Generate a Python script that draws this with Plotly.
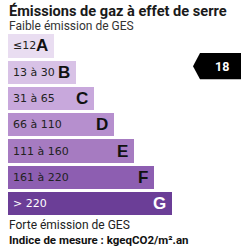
import plotly.graph_objects as go

classes = ["A", "B", "C", "D", "E", "F", "G"]
ranges = ["≤12", "13 à 30", "31 à 65", "66 à 110", "111 à 160", "161 à 220", "> 220"]
lengths = [46, 68, 86, 106, 126, 146, 164]
colors = ["#e9ddf1", "#d8c2e6", "#c8a8dc", "#b68fce", "#a67bc1", "#8d5eb1", "#6b3e97"]
letter_colors = ["#111", "#111", "#111", "#111", "#111", "#111", "#ffffff"]
value = 18
value_class = "B"

idx = list(range(len(classes)))

fig = go.Figure()
fig.add_trace(go.Bar(
    y=idx, x=lengths, orientation="h", marker=dict(color=colors, line=dict(width=0)),
    width=0.88, hoverinfo="skip", showlegend=False,
))

ann = []
for i, (r, L, lc, c) in enumerate(zip(ranges, lengths, letter_colors, classes)):
    ann.append(dict(x=3, y=i, xref="x", yref="y", text=r, showarrow=False, xanchor="left", yanchor="middle",
                    font=dict(family="DejaVu Sans", size=11, color="#ffffff" if i == 6 else "#222")))
    ann.append(dict(x=L - 4, y=i, xref="x", yref="y", text="<b>%s</b>" % c, showarrow=False, xanchor="right",
                    yanchor="middle", font=dict(family="Liberation Sans", size=17, color=lc)))

ann += [
    dict(x=8 / 250, y=1 - 10.5 / 250, xref="paper", yref="paper", text="<b>Émissions de gaz à effet de serre</b>",
         showarrow=False, xanchor="left", yanchor="middle", borderpad=0,
         font=dict(family="Roboto", size=14.6, color="#1a1a1a")),
    dict(x=8 / 250, y=1 - 26.5 / 250, xref="paper", yref="paper", text="Faible émission de GES",
         showarrow=False, xanchor="left", yanchor="middle", borderpad=0,
         font=dict(family="Roboto", size=12, color="#333")),
    dict(x=8 / 250, y=1 - 225 / 250, xref="paper", yref="paper", text="Forte émission de GES",
         showarrow=False, xanchor="left", yanchor="middle", borderpad=0,
         font=dict(family="Roboto", size=12, color="#222")),
    dict(x=8 / 250, y=1 - 239.5 / 250, xref="paper", yref="paper", text="<b>Indice de mesure : kgeqCO2/m².an</b>",
         showarrow=False, xanchor="left", yanchor="middle", borderpad=0,
         font=dict(family="Roboto", size=11.5, color="#111")),
]

# indicator arrow
vi = classes.index(value_class) - 0.23
h = 0.5
x0, x1, tip = 192, 233, 185
path = "M %f,%f L %f,%f L %f,%f L %f,%f L %f,%f Z" % (tip, vi, x0, vi - h, x1, vi - h, x1, vi + h, x0, vi + h)
shapes = [dict(type="path", path=path, xref="x", yref="y", fillcolor="#000", line=dict(width=0))]
ann.append(dict(x=(x0 + x1) / 2 + 1, y=vi, xref="x", yref="y", text="<b>%d</b>" % value, showarrow=False,
                font=dict(family="Roboto", size=12.5, color="#fff"), xanchor="center", yanchor="middle"))

fig.update_layout(
    width=250, height=250, margin=dict(l=0, r=0, t=0, b=0),
    paper_bgcolor="white", plot_bgcolor="white",
    xaxis=dict(range=[-8, 242], visible=False, fixedrange=True),
    yaxis=dict(range=[7.771, -1.752], visible=False, fixedrange=True),
    annotations=ann, shapes=shapes, bargap=0,
)
fig.write_html("out.html")
